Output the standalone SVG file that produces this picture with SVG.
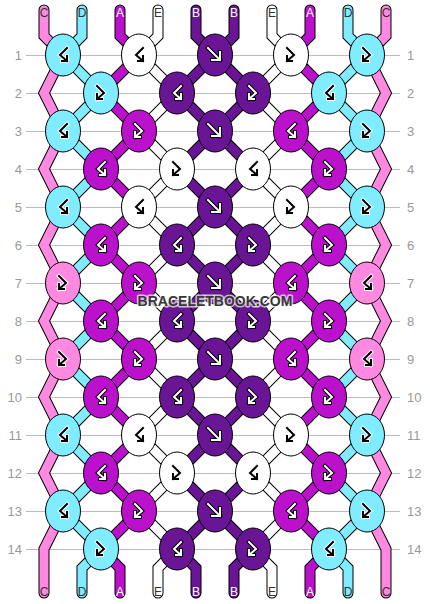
<svg xmlns="http://www.w3.org/2000/svg" xmlns:xlink="http://www.w3.org/1999/xlink" width="430" height="604" viewBox="0 0 430 604">
<style>
.grid{stroke:#bbb;stroke-width:1;shape-rendering:crispEdges}
.rn{font-family:"Liberation Sans",Arial,sans-serif;font-size:13px;fill:#999}
.so{fill:none;stroke:#000;stroke-width:11;stroke-linecap:round;stroke-linejoin:miter}
.s{fill:none;stroke-width:9;stroke-linecap:round;stroke-linejoin:miter}
.sC{stroke:#ff88e0}.sD{stroke:#80ecff}.sA{stroke:#bb11cc}.sE{stroke:#fff}.sB{stroke:#6a1596}
.kC{fill:#ff88e0}.kD{fill:#80ecff}.kA{fill:#bb11cc}.kE{fill:#fff}.kB{fill:#6a1596}
.ell{stroke:#000;stroke-width:1}
.od{fill:none;stroke:#fff;stroke-width:4;stroke-linecap:square}
.id{fill:none;stroke:#000;stroke-width:2;stroke-linecap:square}
.ol{fill:none;stroke:#000;stroke-width:4;stroke-linecap:square}
.il{fill:none;stroke:#fff;stroke-width:2;stroke-linecap:square}
.lb{font-family:"Liberation Sans",Arial,sans-serif;font-size:12px;text-anchor:middle}
.ld{fill:#333}.ll{fill:#fff}
.wm{font-family:"Liberation Sans",Arial,sans-serif;font-size:14px;font-weight:bold;fill:#383838;text-anchor:middle;stroke:#fff;stroke-opacity:0.7;stroke-width:3;paint-order:stroke;stroke-linejoin:round}
</style>
<defs>
<ellipse id="e" class="ell" rx="17.5" ry="21"/>
<path id="pf" d="M-7,-7 L5,5 M-3,5 L5,5 L5,-3"/>
<path id="pfb" d="M-4,-7 L3,0 L-4,6 M-4,1 L-4,6 L1,6"/>
<path id="pbf" d="M4,-7 L-3,0 L4,6 M4,1 L4,6 L-1,6"/>
<g id="f-l"><use href="#pf" class="ol"/><use href="#pf" class="il"/></g>
<g id="fb-d"><use href="#pfb" class="od"/><use href="#pfb" class="id"/></g>
<g id="bf-d"><use href="#pbf" class="od"/><use href="#pbf" class="id"/></g>
<g id="fb-l"><use href="#pfb" class="ol"/><use href="#pfb" class="il"/></g>
<g id="bf-l"><use href="#pbf" class="ol"/><use href="#pbf" class="il"/></g>
<polyline id="p0" points="44,10 44,36 63,55 44,93 63,131 44,169 63,207 44,245 63,283 44,321 63,359 44,397 63,435 44,473 63,511 44,549 44,593"/>
<polyline id="p1" points="82,10 82,36 63,55 101,93 63,131 101,169 63,207 101,245 63,283 101,321 63,359 101,397 63,435 101,473 63,511 101,549 82,568 82,593"/>
<polyline id="p2" points="120,10 120,36 139,55 101,93 139,131 101,169 139,207 101,245 139,283 101,321 139,359 101,397 139,435 101,473 139,511 101,549 120,568 120,593"/>
<polyline id="p3" points="158,10 158,36 139,55 177,93 139,131 177,169 139,207 177,245 139,283 177,321 139,359 177,397 139,435 177,473 139,511 177,549 158,568 158,593"/>
<polyline id="p4" points="196,10 196,36 215,55 177,93 215,131 177,169 215,207 177,245 215,283 177,321 215,359 177,397 215,435 177,473 215,511 177,549 196,568 196,593"/>
<polyline id="p5" points="234,10 234,36 215,55 253,93 215,131 253,169 215,207 253,245 215,283 253,321 215,359 253,397 215,435 253,473 215,511 253,549 234,568 234,593"/>
<polyline id="p6" points="272,10 272,36 291,55 253,93 291,131 253,169 291,207 253,245 291,283 253,321 291,359 253,397 291,435 253,473 291,511 253,549 272,568 272,593"/>
<polyline id="p7" points="310,10 310,36 291,55 329,93 291,131 329,169 291,207 329,245 291,283 329,321 291,359 329,397 291,435 329,473 291,511 329,549 310,568 310,593"/>
<polyline id="p8" points="348,10 348,36 367,55 329,93 367,131 329,169 367,207 329,245 367,283 329,321 367,359 329,397 367,435 329,473 367,511 329,549 348,568 348,593"/>
<polyline id="p9" points="386,10 386,36 367,55 386,93 367,131 386,169 367,207 386,245 367,283 386,321 367,359 386,397 367,435 386,473 367,511 386,549 386,593"/>
</defs>
<rect width="430" height="604" fill="#fff"/>
<g id="grid">
<line class="grid" x1="26" y1="55" x2="400" y2="55"/>
<line class="grid" x1="26" y1="93" x2="400" y2="93"/>
<line class="grid" x1="26" y1="131" x2="400" y2="131"/>
<line class="grid" x1="26" y1="169" x2="400" y2="169"/>
<line class="grid" x1="26" y1="207" x2="400" y2="207"/>
<line class="grid" x1="26" y1="245" x2="400" y2="245"/>
<line class="grid" x1="26" y1="283" x2="400" y2="283"/>
<line class="grid" x1="26" y1="321" x2="400" y2="321"/>
<line class="grid" x1="26" y1="359" x2="400" y2="359"/>
<line class="grid" x1="26" y1="397" x2="400" y2="397"/>
<line class="grid" x1="26" y1="435" x2="400" y2="435"/>
<line class="grid" x1="26" y1="473" x2="400" y2="473"/>
<line class="grid" x1="26" y1="511" x2="400" y2="511"/>
<line class="grid" x1="26" y1="549" x2="400" y2="549"/>
</g>
<g id="row-numbers">
<text class="rn" x="22" y="59.5" text-anchor="end">1</text><text class="rn" x="407" y="59.5">1</text>
<text class="rn" x="22" y="97.5" text-anchor="end">2</text><text class="rn" x="407" y="97.5">2</text>
<text class="rn" x="22" y="135.5" text-anchor="end">3</text><text class="rn" x="407" y="135.5">3</text>
<text class="rn" x="22" y="173.5" text-anchor="end">4</text><text class="rn" x="407" y="173.5">4</text>
<text class="rn" x="22" y="211.5" text-anchor="end">5</text><text class="rn" x="407" y="211.5">5</text>
<text class="rn" x="22" y="249.5" text-anchor="end">6</text><text class="rn" x="407" y="249.5">6</text>
<text class="rn" x="22" y="287.5" text-anchor="end">7</text><text class="rn" x="407" y="287.5">7</text>
<text class="rn" x="22" y="325.5" text-anchor="end">8</text><text class="rn" x="407" y="325.5">8</text>
<text class="rn" x="22" y="363.5" text-anchor="end">9</text><text class="rn" x="407" y="363.5">9</text>
<text class="rn" x="22" y="401.5" text-anchor="end">10</text><text class="rn" x="407" y="401.5">10</text>
<text class="rn" x="22" y="439.5" text-anchor="end">11</text><text class="rn" x="407" y="439.5">11</text>
<text class="rn" x="22" y="477.5" text-anchor="end">12</text><text class="rn" x="407" y="477.5">12</text>
<text class="rn" x="22" y="515.5" text-anchor="end">13</text><text class="rn" x="407" y="515.5">13</text>
<text class="rn" x="22" y="553.5" text-anchor="end">14</text><text class="rn" x="407" y="553.5">14</text>
</g>
<g id="connectors">
<use href="#p0" class="so"/><use href="#p1" class="so"/><use href="#p2" class="so"/><use href="#p3" class="so"/><use href="#p4" class="so"/>
<use href="#p5" class="so"/><use href="#p6" class="so"/><use href="#p7" class="so"/><use href="#p8" class="so"/><use href="#p9" class="so"/>
<use href="#p0" class="s sC"/>
<use href="#p1" class="s sD"/>
<use href="#p2" class="s sA"/>
<use href="#p3" class="s sE"/>
<use href="#p4" class="s sB"/>
<use href="#p5" class="s sB"/>
<use href="#p6" class="s sE"/>
<use href="#p7" class="s sA"/>
<use href="#p8" class="s sD"/>
<use href="#p9" class="s sC"/>
</g>
<g id="string-labels">
<text class="lb ld" x="44" y="17">C</text><text class="lb ld" x="82" y="17">D</text><text class="lb ll" x="120" y="17">A</text><text class="lb ld" x="158" y="17">E</text><text class="lb ll" x="196" y="17">B</text>
<text class="lb ll" x="234" y="17">B</text><text class="lb ld" x="272" y="17">E</text><text class="lb ll" x="310" y="17">A</text><text class="lb ld" x="348" y="17">D</text><text class="lb ld" x="386" y="17">C</text>
<text class="lb ld" x="44" y="596">C</text><text class="lb ld" x="82" y="596">D</text><text class="lb ll" x="120" y="596">A</text><text class="lb ld" x="158" y="596">E</text><text class="lb ll" x="196" y="596">B</text>
<text class="lb ll" x="234" y="596">B</text><text class="lb ld" x="272" y="596">E</text><text class="lb ll" x="310" y="596">A</text><text class="lb ld" x="348" y="596">D</text><text class="lb ld" x="386" y="596">C</text>
</g>
<g id="k1-1" transform="translate(63,55)"><use href="#e" class="kD"/><use href="#bf-d"/></g>
<g id="k1-2" transform="translate(139,55)"><use href="#e" class="kE"/><use href="#bf-d"/></g>
<g id="k1-3" transform="translate(215,55)"><use href="#e" class="kB"/><use href="#f-l"/></g>
<g id="k1-4" transform="translate(291,55)"><use href="#e" class="kE"/><use href="#fb-d"/></g>
<g id="k1-5" transform="translate(367,55)"><use href="#e" class="kD"/><use href="#fb-d"/></g>
<g id="k2-1" transform="translate(101,93)"><use href="#e" class="kD"/><use href="#fb-d"/></g>
<g id="k2-2" transform="translate(177,93)"><use href="#e" class="kB"/><use href="#bf-l"/></g>
<g id="k2-3" transform="translate(253,93)"><use href="#e" class="kB"/><use href="#fb-l"/></g>
<g id="k2-4" transform="translate(329,93)"><use href="#e" class="kD"/><use href="#bf-d"/></g>
<g id="k3-1" transform="translate(63,131)"><use href="#e" class="kD"/><use href="#bf-d"/></g>
<g id="k3-2" transform="translate(139,131)"><use href="#e" class="kA"/><use href="#fb-l"/></g>
<g id="k3-3" transform="translate(215,131)"><use href="#e" class="kB"/><use href="#f-l"/></g>
<g id="k3-4" transform="translate(291,131)"><use href="#e" class="kA"/><use href="#bf-l"/></g>
<g id="k3-5" transform="translate(367,131)"><use href="#e" class="kD"/><use href="#fb-d"/></g>
<g id="k4-1" transform="translate(101,169)"><use href="#e" class="kA"/><use href="#bf-l"/></g>
<g id="k4-2" transform="translate(177,169)"><use href="#e" class="kE"/><use href="#fb-d"/></g>
<g id="k4-3" transform="translate(253,169)"><use href="#e" class="kE"/><use href="#bf-d"/></g>
<g id="k4-4" transform="translate(329,169)"><use href="#e" class="kA"/><use href="#fb-l"/></g>
<g id="k5-1" transform="translate(63,207)"><use href="#e" class="kD"/><use href="#bf-d"/></g>
<g id="k5-2" transform="translate(139,207)"><use href="#e" class="kE"/><use href="#bf-d"/></g>
<g id="k5-3" transform="translate(215,207)"><use href="#e" class="kB"/><use href="#f-l"/></g>
<g id="k5-4" transform="translate(291,207)"><use href="#e" class="kE"/><use href="#fb-d"/></g>
<g id="k5-5" transform="translate(367,207)"><use href="#e" class="kD"/><use href="#fb-d"/></g>
<g id="k6-1" transform="translate(101,245)"><use href="#e" class="kA"/><use href="#bf-l"/></g>
<g id="k6-2" transform="translate(177,245)"><use href="#e" class="kB"/><use href="#bf-l"/></g>
<g id="k6-3" transform="translate(253,245)"><use href="#e" class="kB"/><use href="#fb-l"/></g>
<g id="k6-4" transform="translate(329,245)"><use href="#e" class="kA"/><use href="#fb-l"/></g>
<g id="k7-1" transform="translate(63,283)"><use href="#e" class="kC"/><use href="#fb-d"/></g>
<g id="k7-2" transform="translate(139,283)"><use href="#e" class="kA"/><use href="#fb-l"/></g>
<g id="k7-3" transform="translate(215,283)"><use href="#e" class="kB"/><use href="#f-l"/></g>
<g id="k7-4" transform="translate(291,283)"><use href="#e" class="kA"/><use href="#bf-l"/></g>
<g id="k7-5" transform="translate(367,283)"><use href="#e" class="kC"/><use href="#bf-d"/></g>
<g id="k8-1" transform="translate(101,321)"><use href="#e" class="kA"/><use href="#bf-l"/></g>
<g id="k8-2" transform="translate(177,321)"><use href="#e" class="kB"/><use href="#bf-l"/></g>
<g id="k8-3" transform="translate(253,321)"><use href="#e" class="kB"/><use href="#fb-l"/></g>
<g id="k8-4" transform="translate(329,321)"><use href="#e" class="kA"/><use href="#fb-l"/></g>
<g id="k9-1" transform="translate(63,359)"><use href="#e" class="kC"/><use href="#fb-d"/></g>
<g id="k9-2" transform="translate(139,359)"><use href="#e" class="kA"/><use href="#fb-l"/></g>
<g id="k9-3" transform="translate(215,359)"><use href="#e" class="kB"/><use href="#f-l"/></g>
<g id="k9-4" transform="translate(291,359)"><use href="#e" class="kA"/><use href="#bf-l"/></g>
<g id="k9-5" transform="translate(367,359)"><use href="#e" class="kC"/><use href="#bf-d"/></g>
<g id="k10-1" transform="translate(101,397)"><use href="#e" class="kA"/><use href="#bf-l"/></g>
<g id="k10-2" transform="translate(177,397)"><use href="#e" class="kB"/><use href="#bf-l"/></g>
<g id="k10-3" transform="translate(253,397)"><use href="#e" class="kB"/><use href="#fb-l"/></g>
<g id="k10-4" transform="translate(329,397)"><use href="#e" class="kA"/><use href="#fb-l"/></g>
<g id="k11-1" transform="translate(63,435)"><use href="#e" class="kD"/><use href="#bf-d"/></g>
<g id="k11-2" transform="translate(139,435)"><use href="#e" class="kE"/><use href="#bf-d"/></g>
<g id="k11-3" transform="translate(215,435)"><use href="#e" class="kB"/><use href="#f-l"/></g>
<g id="k11-4" transform="translate(291,435)"><use href="#e" class="kE"/><use href="#fb-d"/></g>
<g id="k11-5" transform="translate(367,435)"><use href="#e" class="kD"/><use href="#fb-d"/></g>
<g id="k12-1" transform="translate(101,473)"><use href="#e" class="kA"/><use href="#bf-l"/></g>
<g id="k12-2" transform="translate(177,473)"><use href="#e" class="kE"/><use href="#fb-d"/></g>
<g id="k12-3" transform="translate(253,473)"><use href="#e" class="kE"/><use href="#bf-d"/></g>
<g id="k12-4" transform="translate(329,473)"><use href="#e" class="kA"/><use href="#fb-l"/></g>
<g id="k13-1" transform="translate(63,511)"><use href="#e" class="kD"/><use href="#bf-d"/></g>
<g id="k13-2" transform="translate(139,511)"><use href="#e" class="kA"/><use href="#fb-l"/></g>
<g id="k13-3" transform="translate(215,511)"><use href="#e" class="kB"/><use href="#f-l"/></g>
<g id="k13-4" transform="translate(291,511)"><use href="#e" class="kA"/><use href="#bf-l"/></g>
<g id="k13-5" transform="translate(367,511)"><use href="#e" class="kD"/><use href="#fb-d"/></g>
<g id="k14-1" transform="translate(101,549)"><use href="#e" class="kD"/><use href="#fb-d"/></g>
<g id="k14-2" transform="translate(177,549)"><use href="#e" class="kB"/><use href="#bf-l"/></g>
<g id="k14-3" transform="translate(253,549)"><use href="#e" class="kB"/><use href="#fb-l"/></g>
<g id="k14-4" transform="translate(329,549)"><use href="#e" class="kD"/><use href="#bf-d"/></g>
<text class="wm" x="215" y="306">BRACELETBOOK.COM</text>
</svg>
